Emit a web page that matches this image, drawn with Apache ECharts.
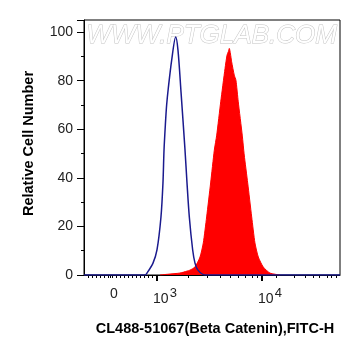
<!DOCTYPE html>
<html>
<head>
<meta charset="utf-8">
<script src="https://cdn.jsdelivr.net/npm/echarts/dist/echarts.min.js"></script>
<style>
  html, body { margin: 0; padding: 0; background: #fff; }
  #main { width: 361px; height: 356px; }
</style>
</head>
<body>
<div id="main"></div>
<script>
// x values are in display decades (10^3 -> 3, 10^4 -> 4)
var ctrlX = [2.305, 2.886, 2.905, 2.962, 3.0, 3.038, 3.057, 3.067, 3.08, 3.092, 3.108, 3.14, 3.178, 3.2, 3.229, 3.267, 3.286, 3.308, 3.34, 3.362, 3.39, 3.457, 4.743];
var ctrlY = [0, 0, 0.8, 4.9, 10.3, 23.9, 37.9, 51.4, 62, 70, 77, 88.5, 98, 92.6, 75.3, 51.4, 37.9, 23.9, 10.3, 4.9, 2, 0, 0];

var stainX = [3.029, 3.124, 3.219, 3.286, 3.314, 3.362, 3.41, 3.441, 3.473, 3.511, 3.546, 3.569, 3.607, 3.648, 3.667, 3.68, 3.689, 3.7, 3.711, 3.736, 3.752, 3.774, 3.812, 3.831, 3.864, 3.902, 3.933, 3.965, 4.012, 4.076, 4.171];
var stainY = [0, 0.4, 0.8, 1.6, 2, 3.3, 7.4, 13.2, 23.9, 37.9, 51.4, 57.6, 71.3, 85, 90.5, 92, 93.3, 91, 87.8, 82.3, 80.2, 71.3, 57.6, 49.4, 37.9, 23.9, 13.2, 7.4, 3.3, 0.8, 0];

var majorTicks = [3, 4];
var minorTicks = [2.343, 2.381, 2.419, 2.457, 2.495, 2.533, 2.552, 2.571, 2.61, 2.648, 2.686, 2.724, 2.762, 2.8, 2.838, 2.876, 2.914, 2.952,
  3.301, 3.477, 3.602, 3.699, 3.778, 3.845, 3.903, 3.954,
  4.14, 4.31, 4.41, 4.49, 4.55, 4.62, 4.66, 4.71];
var labelTicks = [2.59, 3, 4];

function pairs(xs, ys) {
  var out = [];
  for (var i = 0; i < xs.length; i++) out.push([xs[i], ys[i]]);
  return out;
}

var font = '"Liberation Sans", Arial, sans-serif';
var chart = echarts.init(document.getElementById('main'));
chart.setOption({
  animation: false,
  graphic: [{
    type: 'text',
    left: 86,
    top: 22,
    z: -1,
    style: {
      text: 'WWW.PTGLAB.COM',
      font: 'italic 26px ' + font,
      fill: '#ffffff',
      stroke: '#c4c4c4',
      lineWidth: 1
    }
  }],
  grid: {
    left: 84, right: 21, top: 20, bottom: 81,
    show: true, borderColor: '#000', borderWidth: 1
  },
  xAxis: [{
    type: 'value',
    min: 2.305, max: 4.743,
    name: 'CL488-51067(Beta Catenin),FITC-H',
    nameLocation: 'middle',
    nameGap: 46,
    nameTextStyle: { fontFamily: font, fontWeight: 'bold', fontSize: 14.5, color: '#000', padding: [0, 0, 0, 6] },
    splitLine: { show: false },
    axisLine: { onZero: false, lineStyle: { color: '#000', width: 1 } },
    axisTick: { customValues: majorTicks, length: 6, lineStyle: { color: '#000', width: 2 } },
    axisLabel: {
      customValues: labelTicks,
      margin: 12,
      fontFamily: font,
      fontSize: 14,
      color: '#222',
      formatter: function (v) {
        if (Math.abs(v - 3) < 1e-6) return '{n|10}{s|3}';
        if (Math.abs(v - 4) < 1e-6) return '{n|10}{s|4}';
        return '0';
      },
      rich: {
        n: { fontSize: 14, fontFamily: font, color: '#222', padding: [0, 0, 0, 16] },
        s: { fontSize: 13, fontFamily: font, color: '#222', padding: [0, 0, 11, 1] }
      }
    }
  }, {
    type: 'value',
    min: 2.305, max: 4.743,
    position: 'bottom',
    splitLine: { show: false },
    axisLine: { show: false },
    axisLabel: { show: false },
    axisTick: { customValues: minorTicks, length: 3, lineStyle: { color: '#000', width: 1 } }
  }],
  yAxis: {
    type: 'value',
    min: 0, max: 105, interval: 20,
    name: 'Relative Cell Number',
    nameLocation: 'middle',
    nameGap: 48,
    nameTextStyle: { fontFamily: font, fontWeight: 'bold', fontSize: 14.5, color: '#000', padding: [0, 0, 0, 8] },
    splitLine: { show: false },
    axisLine: { show: true, lineStyle: { color: '#000', width: 1 } },
    axisTick: { length: 7, lineStyle: { color: '#000', width: 1 } },
    minorTick: { show: true, splitNumber: 2, length: 3, lineStyle: { color: '#000' } },
    axisLabel: {
      margin: 11,
      fontFamily: font,
      fontSize: 14,
      color: '#222',
      showMaxLabel: false
    }
  },
  series: [{
    name: 'stain',
    type: 'line',
    xAxisIndex: 0,
    data: pairs(stainX, stainY),
    showSymbol: false,
    smooth: 0.2,
    lineStyle: { color: '#ff0000', width: 1 },
    areaStyle: { color: '#ff0000', opacity: 1 },
    z: 2
  }, {
    name: 'control',
    type: 'line',
    xAxisIndex: 0,
    data: pairs(ctrlX, ctrlY),
    showSymbol: false,
    smooth: 0.3,
    lineStyle: { color: '#1a1a8e', width: 1.5 },
    z: 3
  }]
});
</script>
</body>
</html>
